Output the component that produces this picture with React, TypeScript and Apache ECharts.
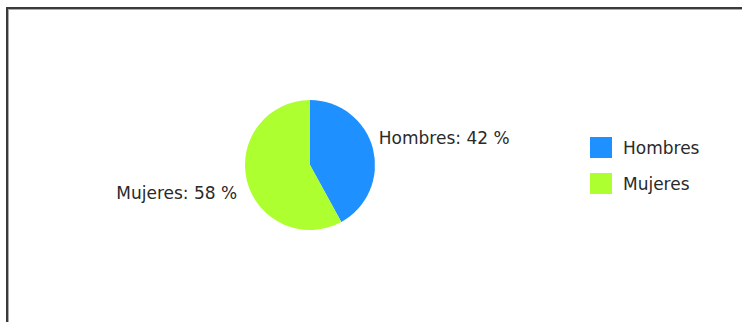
import React, { useEffect, useRef } from "react";
import * as echarts from "echarts";

const categories = ["Hombres", "Mujeres"];
const values = [42, 58];
const colors = ["#1E90FF", "#ADFF2F"];

export default function App() {
  const ref = useRef<HTMLDivElement>(null);
  useEffect(() => {
    document.body.style.margin = "0";
    const chart = echarts.init(ref.current!, null, { renderer: "svg" });
    chart.setOption({
      animation: false,
      backgroundColor: "#ffffff",
      textStyle: { fontFamily: "DejaVu Sans" },
      graphic: [
        { type: "rect", shape: { x: 6, y: 7, width: 736, height: 2 }, style: { fill: "#3a3a3a" } },
        { type: "rect", shape: { x: 8, y: 9, width: 734, height: 1 }, style: { fill: "#aaaaaa" } },
        { type: "rect", shape: { x: 6, y: 7, width: 2, height: 315 }, style: { fill: "#3a3a3a" } },
        { type: "rect", shape: { x: 8, y: 9, width: 1, height: 313 }, style: { fill: "#aaaaaa" } },
      ],
      legend: {
        orient: "vertical",
        left: 585,
        top: 132,
        itemWidth: 22,
        itemHeight: 21,
        itemGap: 15,
        icon: "rect",
        data: categories,
        textStyle: { fontSize: 17, color: "#2a2a2a", fontFamily: "DejaVu Sans", padding: [0, 0, 0, 6] },
      },
      series: [
        {
          type: "pie",
          center: [310, 165],
          radius: 65,
          startAngle: 90,
          clockwise: true,
          avoidLabelOverlap: false,
          label: {
            show: true,
            position: "outside",
            formatter: (p: any) => `${p.name}: ${p.value} %`,
            fontSize: 17,
            color: "#2a2a2a",
            fontFamily: "DejaVu Sans",
          },
          labelLine: { show: false, length: 5, length2: 0 },
          labelLayout: (p: any) => (p.dataIndex === 0 ? { dx: -4, dy: -10 } : { dy: 11 }),
          data: categories.map((c, i) => ({ name: c, value: values[i], itemStyle: { color: colors[i] } })),
        },
      ],
    });
    return () => chart.dispose();
  }, []);
  return <div ref={ref} style={{ width: 742, height: 322 }} />;
}
